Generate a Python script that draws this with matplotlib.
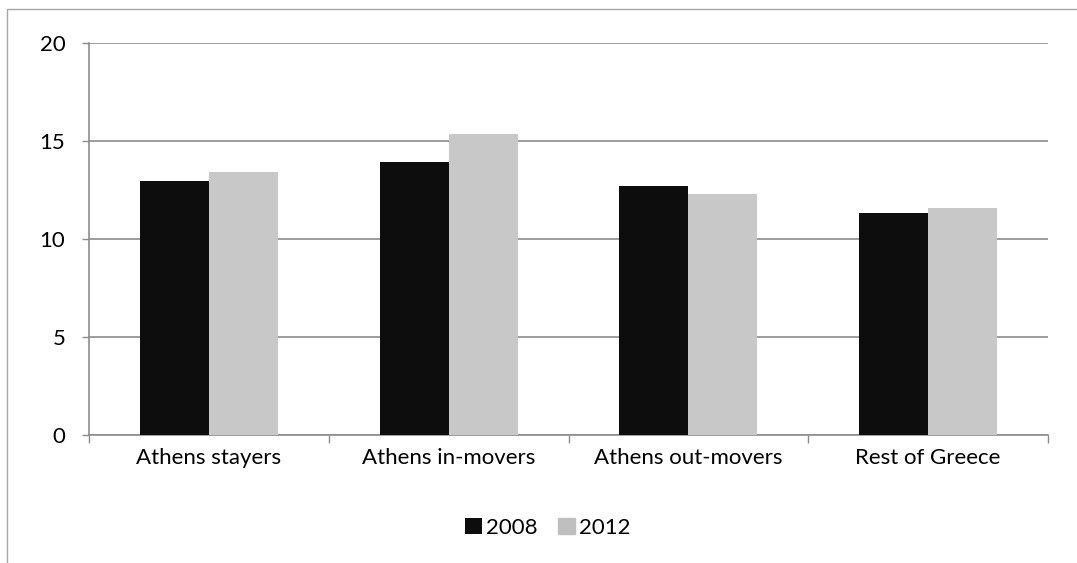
import matplotlib
matplotlib.use("Agg")
import matplotlib.pyplot as plt
import numpy as np
from matplotlib.patches import Rectangle

categories = ["Athens stayers", "Athens in-movers", "Athens out-movers", "Rest of Greece"]
series_names = ["2008", "2012"]
values_2008 = [12.97, 13.93, 12.72, 11.33]
values_2012 = [13.43, 15.36, 12.31, 11.58]
yticks = [0, 5, 10, 15, 20]

plt.rcParams['font.family'] = ['Lato', 'DejaVu Sans']

W, H = 1077, 563
fig = plt.figure(figsize=(W/100, H/100), dpi=100)
ax = fig.add_axes([89/W, 1-435/H, (1048-89)/W, (435-43)/H])

# outer chart border
fig.patches.append(Rectangle((7/W, -0.1), 1.2, 1-9/H+0.1, transform=fig.transFigure,
                             fill=False, edgecolor='#a6a6a6', linewidth=1.0))

x = np.arange(len(categories))
bw = 0.288
ax.bar(x - bw/2, values_2008, bw, color='#0d0d0d', label=series_names[0], zorder=3)
ax.bar(x + bw/2, values_2012, bw, color='#c8c8c8', label=series_names[1], zorder=3)

ax.set_xlim(-0.5, len(categories)-0.5)
ax.set_ylim(0, 20)
ax.set_yticks(yticks)
ax.set_yticklabels([str(t) for t in yticks], fontsize=16)
ax.yaxis.grid(True, color='#8c8c8c', linewidth=1.2, zorder=0)
ax.set_axisbelow(True)

ax.set_xticks(x)
ax.set_xticklabels(categories, fontsize=16)
ax.tick_params(axis='x', length=0, pad=9)
ax.set_xticks(np.arange(-0.5, len(categories)), minor=True)
ax.tick_params(axis='x', which='minor', length=6, color='#8c8c8c', width=1)
ax.tick_params(axis='y', length=5, color='#8c8c8c', width=1, pad=12)

for s in ['top', 'right']:
    ax.spines[s].set_visible(False)
for s in ['left', 'bottom']:
    ax.spines[s].set_color('#8c8c8c')
    ax.spines[s].set_linewidth(1.2)

leg = fig.legend(loc='center', bbox_to_anchor=(548/W, 1-528/H), ncol=2, frameon=False,
                 fontsize=16, handlelength=0.75, handleheight=0.75, handletextpad=0.2,
                 columnspacing=0.9)
leg.legend_handles[1].set_color('#bfbfbf')

fig.savefig("out.png", dpi=100)
